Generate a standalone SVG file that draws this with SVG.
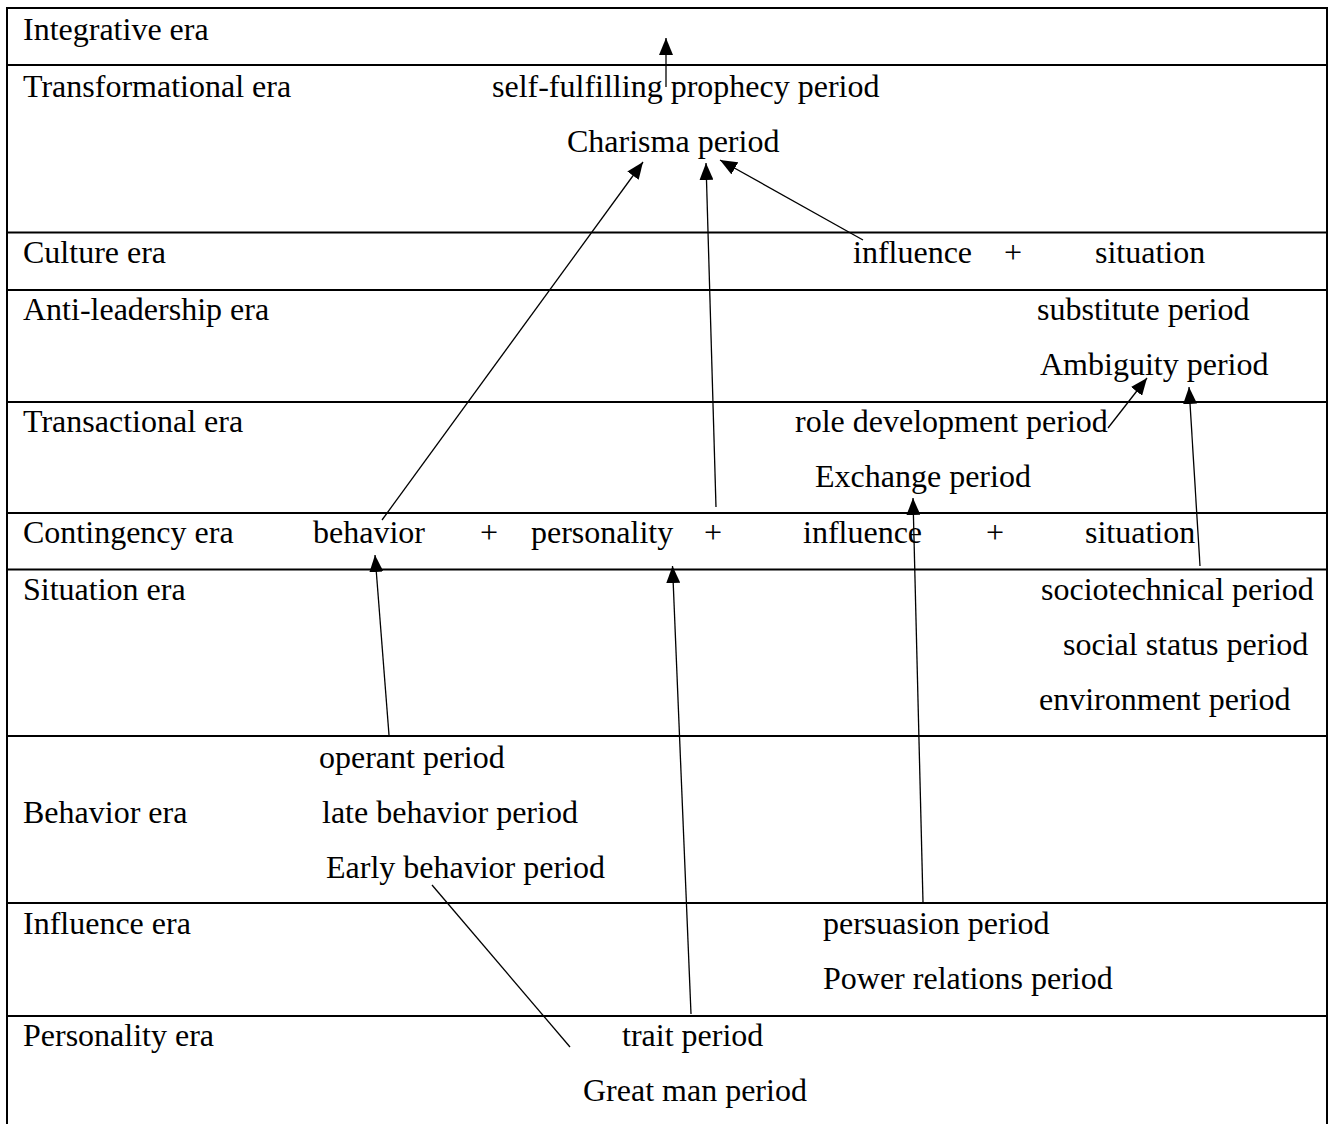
<svg xmlns="http://www.w3.org/2000/svg" width="1333" height="1124" viewBox="0 0 1333 1124">
<style>
  text { font-family: "Liberation Serif", "Times New Roman", serif; font-size: 32px; fill: #000; }
  .plus { text-anchor: middle; }
  .rule { stroke: #000; stroke-width: 2; fill: none; }
  .conn { stroke: #000; stroke-width: 1.3; fill: none; }
  .arr { marker-end: url(#ah); }
</style>
<defs>
  <marker id="ah" markerUnits="userSpaceOnUse" markerWidth="17" markerHeight="14" refX="17" refY="7" orient="auto">
    <path d="M0,0 L17,7 L0,14 z" fill="#000"/>
  </marker>
</defs>
<rect x="0" y="0" width="1333" height="1124" fill="#fff"/>

<g id="frame">
  <line class="rule" x1="7" y1="8" x2="7" y2="1124"/>
  <line class="rule" x1="1327" y1="8" x2="1327" y2="1124"/>
  <line class="rule" x1="6" y1="8" x2="1328" y2="8"/>
</g>

<g id="era-integrative">
  <text x="23" y="40">Integrative era</text>
  <line class="rule" x1="6" y1="65" x2="1328" y2="65"/>
</g>
<g id="era-transformational">
  <text x="23" y="97">Transformational era</text>
  <line class="rule" x1="6" y1="232.5" x2="1328" y2="232.5"/>
</g>
<g id="era-culture">
  <text x="23" y="263">Culture era</text>
  <line class="rule" x1="6" y1="290" x2="1328" y2="290"/>
</g>
<g id="era-anti-leadership">
  <text x="23" y="320">Anti-leadership era</text>
  <line class="rule" x1="6" y1="402" x2="1328" y2="402"/>
</g>
<g id="era-transactional">
  <text x="23" y="432">Transactional era</text>
  <line class="rule" x1="6" y1="513" x2="1328" y2="513"/>
</g>
<g id="era-contingency">
  <text x="23" y="543">Contingency era</text>
  <line class="rule" x1="6" y1="569.5" x2="1328" y2="569.5"/>
</g>
<g id="era-situation">
  <text x="23" y="600">Situation era</text>
  <line class="rule" x1="6" y1="736" x2="1328" y2="736"/>
</g>
<g id="era-behavior">
  <text x="23" y="823">Behavior era</text>
  <line class="rule" x1="6" y1="903" x2="1328" y2="903"/>
</g>
<g id="era-influence">
  <text x="23" y="934">Influence era</text>
  <line class="rule" x1="6" y1="1016" x2="1328" y2="1016"/>
</g>
<g id="era-personality">
  <text x="23" y="1046">Personality era</text>
</g>

<g id="p-self-fulfilling"><text x="492" y="97">self-fulfilling prophecy period</text></g>
<g id="p-charisma"><text x="567" y="152">Charisma period</text></g>
<g id="c-culture">
  <text x="853" y="263">influence</text>
  <text class="plus" x="1013" y="263">+</text>
  <text x="1095" y="263">situation</text>
</g>
<g id="p-substitute"><text x="1037" y="320">substitute period</text></g>
<g id="p-ambiguity"><text x="1040" y="375">Ambiguity period</text></g>
<g id="p-role-development"><text x="795" y="432">role development period</text></g>
<g id="p-exchange"><text x="815" y="487">Exchange period</text></g>
<g id="c-contingency">
  <text x="313" y="543">behavior</text>
  <text class="plus" x="489" y="543">+</text>
  <text x="531" y="543">personality</text>
  <text class="plus" x="713" y="543">+</text>
  <text x="803" y="543">influence</text>
  <text class="plus" x="995" y="543">+</text>
  <text x="1085" y="543">situation</text>
</g>
<g id="p-sociotechnical"><text x="1041" y="600">sociotechnical period</text></g>
<g id="p-social-status"><text x="1063" y="655">social status period</text></g>
<g id="p-environment"><text x="1039" y="710">environment period</text></g>
<g id="p-operant"><text x="319" y="768">operant period</text></g>
<g id="p-late-behavior"><text x="322" y="823">late behavior period</text></g>
<g id="p-early-behavior"><text x="326" y="878">Early behavior period</text></g>
<g id="p-persuasion"><text x="823" y="934">persuasion period</text></g>
<g id="p-power-relations"><text x="823" y="989">Power relations period</text></g>
<g id="p-trait"><text x="622" y="1046">trait period</text></g>
<g id="p-great-man"><text x="583" y="1101">Great man period</text></g>

<g id="connectors">
  <line class="conn arr" x1="666" y1="87" x2="666" y2="38"/>
  <line class="conn arr" x1="382" y1="520" x2="643" y2="162"/>
  <line class="conn arr" x1="716" y1="507" x2="706" y2="163"/>
  <line class="conn arr" x1="863" y1="240" x2="720" y2="160"/>
  <line class="conn arr" x1="1108" y1="428" x2="1147" y2="378"/>
  <line class="conn arr" x1="1200" y1="566" x2="1189" y2="387"/>
  <line class="conn arr" x1="389" y1="735" x2="375" y2="555"/>
  <line class="conn arr" x1="691" y1="1014" x2="672.5" y2="566"/>
  <line class="conn arr" x1="923" y1="902" x2="913" y2="498"/>
  <line class="conn" x1="432" y1="885" x2="570" y2="1047"/>
</g>
</svg>
